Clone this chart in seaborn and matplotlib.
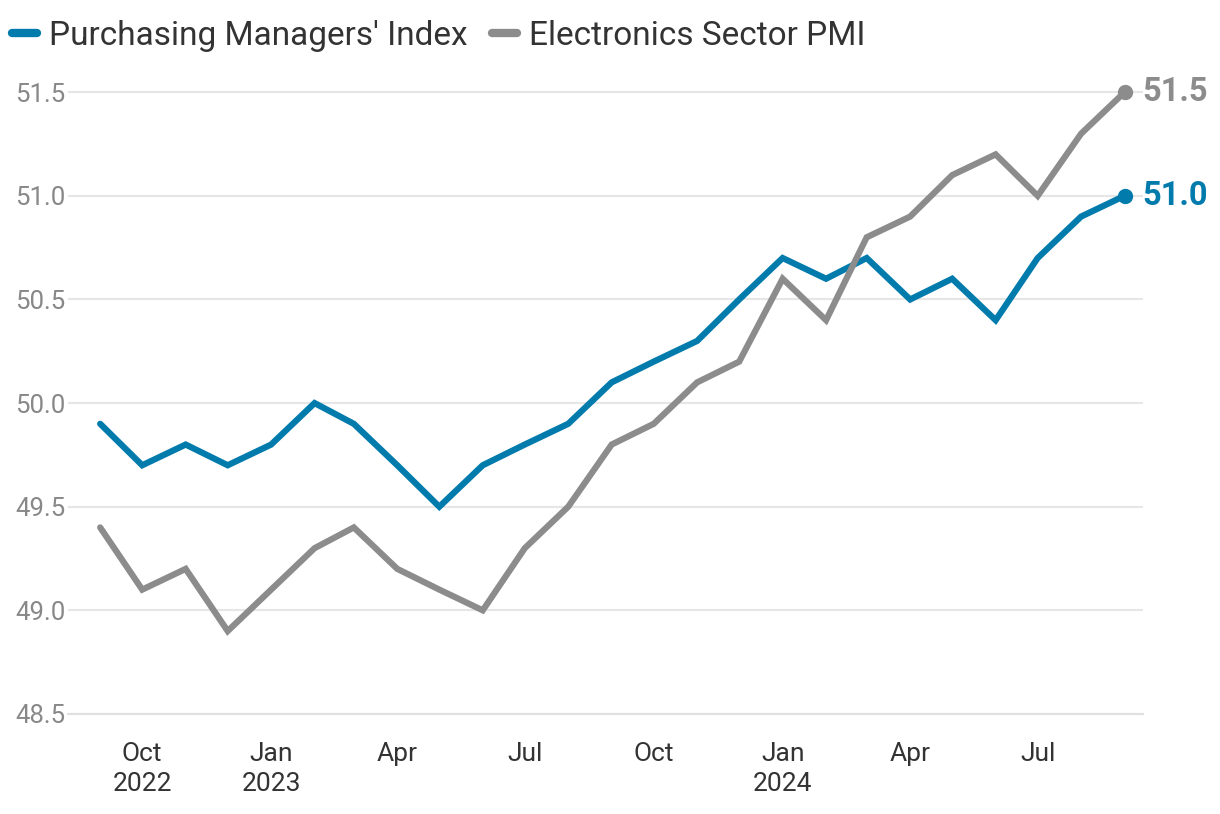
import matplotlib
matplotlib.use("Agg")
import matplotlib.pyplot as plt
import seaborn as sns
import pandas as pd

months = pd.date_range("2022-09-01", "2024-09-01", freq="MS")
pmi = [49.9, 49.7, 49.8, 49.7, 49.8, 50.0, 49.9, 49.7, 49.5, 49.7, 49.8, 49.9, 50.1,
       50.2, 50.3, 50.5, 50.7, 50.6, 50.7, 50.5, 50.6, 50.4, 50.7, 50.9, 51.0]
electronics = [49.4, 49.1, 49.2, 48.9, 49.1, 49.3, 49.4, 49.2, 49.1, 49.0, 49.3, 49.5, 49.8,
               49.9, 50.1, 50.2, 50.6, 50.4, 50.8, 50.9, 51.1, 51.2, 51.0, 51.3, 51.5]
series_names = ["Purchasing Managers' Index", "Electronics Sector PMI"]
colors = ["#007bac", "#8c8c8c"]
yticks = [48.5, 49.0, 49.5, 50.0, 50.5, 51.0, 51.5]

df = pd.DataFrame({"date": list(months) * 2,
                   "value": pmi + electronics,
                   "series": [series_names[0]] * len(pmi) + [series_names[1]] * len(electronics)})

sns.set_theme(style="white")
plt.rcParams["font.family"] = ["Roboto", "DejaVu Sans"]

fig = plt.figure(figsize=(12.2, 8.14), dpi=100)
ax = fig.add_axes([0.0557, 0.1229, 0.881, 0.802])

sns.lineplot(data=df, x="date", y="value", hue="series", palette=colors,
             linewidth=4.5, ax=ax, legend=False, solid_capstyle="round",
             solid_joinstyle="miter")

# end markers and labels
for vals, col in zip([pmi, electronics], colors):
    ax.plot(months[-1], vals[-1], "o", color=col, markersize=10, zorder=5)
    ax.annotate(f"{vals[-1]:.1f}", (months[-1], vals[-1]), xytext=(13, 0),
                textcoords="offset points", va="center", ha="left",
                fontsize=23.5, fontweight="bold", color=col, annotation_clip=False)

ax.set_ylim(48.5, 51.65)
ax.set_xlim(pd.Timestamp("2022-08-09"), pd.Timestamp("2024-09-14"))
ax.set_yticks(yticks)
ax.set_yticklabels([f"{v:.1f}" for v in yticks])
ax.yaxis.grid(True, color="#e6e6e6", linewidth=1.5)
ax.tick_params(axis="y", length=0, labelsize=18.5, labelcolor="#888888", pad=2)

xt = pd.date_range("2022-10-01", "2024-07-01", freq="QS-JAN")
ax.set_xticks(xt)
labels = []
for i, d in enumerate(xt):
    lab = d.strftime("%b")
    if i == 0 or d.month == 1:
        lab += "\n" + d.strftime("%Y")
    labels.append(lab)
ax.set_xticklabels(labels, linespacing=1.35)
ax.tick_params(axis="x", length=10, width=1.2, color="#e0e0e0", labelsize=19,
               labelcolor="#333333", pad=10)

for s in ["top", "right", "left"]:
    ax.spines[s].set_visible(False)
ax.spines["bottom"].set_color("#e0e0e0")
ax.spines["bottom"].set_linewidth(1.5)
ax.set_xlabel("")
ax.set_ylabel("")

handles = [plt.Line2D([], [], color=c, linewidth=6, solid_capstyle="round") for c in colors]
fig.legend(handles, series_names, loc="upper left", bbox_to_anchor=(-0.008, 1.002),
           ncol=2, frameon=False, fontsize=24, handlelength=0.75, handletextpad=0.35,
           columnspacing=0.75, labelcolor="#333333", borderaxespad=0.25)

fig.savefig("out.png", dpi=100)
